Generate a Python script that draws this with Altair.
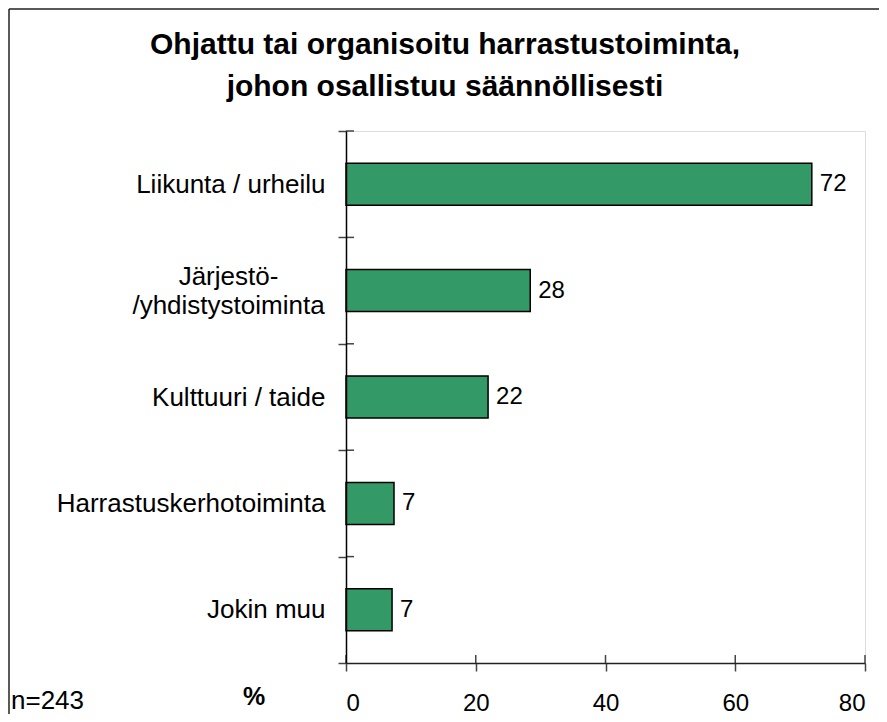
import altair as alt
import pandas as pd

categories = ["Liikunta / urheilu", "Järjestö-/yhdistystoiminta", "Kulttuuri / taide",
              "Harrastuskerhotoiminta", "Jokin muu"]
values = [71.8, 28.4, 21.9, 7.4, 7.1]
labels = ["72", "28", "22", "7", "7"]
x_ticks = [0, 20, 40, 60, 80]
title_lines = ["Ohjattu tai organisoitu harrastustoiminta,", "johon osallistuu säännöllisesti"]
n_text = "n=243"
unit_text = "%"

df = pd.DataFrame({"cat": categories, "value": values, "label": labels})
ticks_df = pd.DataFrame({"value": x_ticks})
one = pd.DataFrame({"a": [0]})

W, H = 519, 532
PL, PT, PR, PB = 338, 123, 14, 51
FONT = "Liberation Sans"
TICK = "#444"

xscale = alt.Scale(domain=[0, 80], nice=False)
yscale = alt.Scale(paddingInner=0, paddingOuter=0)

JAR = "Järjestö-/yhdistystoiminta"
TEST = "datum.value == '" + JAR + "'"
label_expr = TEST + " ? ['Järjestö-', '/yhdistystoiminta'] : datum.label"

base = alt.Chart(df)

bars = base.mark_bar(fill="#339966", stroke="black", strokeWidth=1.5, size=42).encode(
    x=alt.X("value:Q", scale=xscale, title=None,
            axis=alt.Axis(values=x_ticks, tickSize=8, labelFontSize=24, labelPadding=20,
                          labelFont=FONT, labelColor="black", domainColor="#222",
                          tickColor=TICK, tickWidth=1.5, domainWidth=1.5, grid=False, zindex=2)),
    y=alt.Y("cat:N", sort=categories, scale=yscale, title=None,
            axis=alt.Axis(tickBand="extent", tickSize=8, labelFontSize=26, labelFont=FONT,
                          labelColor="black", labelLimit=400, labelExpr=label_expr,
                          labelLineHeight=29,
                          labelAlign={"condition": {"test": TEST, "value": "center"},
                                      "value": "right"},
                          labelPadding={"condition": {"test": TEST, "value": 110}, "value": 13},
                          labelOffset={"condition": {"test": TEST, "value": -14}, "value": 0},
                          domainColor="black", tickColor=TICK, tickWidth=1.5, domainWidth=1.5,
                          grid=False, zindex=2)),
)

text = base.mark_text(align="left", baseline="middle", dx=8, fontSize=24, font=FONT,
                      color="black").encode(
    x=alt.X("value:Q", scale=xscale, title=None),
    y=alt.Y("cat:N", sort=categories, scale=yscale, title=None),
    text="label:N",
)

# inner halves of the crossing ticks
xin = alt.Chart(ticks_df).mark_rule(color=TICK, strokeWidth=1.5).encode(
    x=alt.X("value:Q", scale=xscale, title=None),
    y=alt.value(H - 8), y2=alt.value(H),
)
yin = base.mark_rule(color=TICK, strokeWidth=1.5).encode(
    y=alt.Y("cat:N", sort=categories, scale=yscale, title=None, bandPosition=0),
    x=alt.value(0), x2=alt.value(8),
)

t1 = alt.Chart(one).mark_text(align="center", baseline="alphabetic", fontSize=30,
                              fontWeight="bold", font=FONT, color="black").encode(
    x=alt.value(99), y=alt.value(-77), text=alt.value(title_lines[0]))
t2 = alt.Chart(one).mark_text(align="center", baseline="alphabetic", fontSize=30,
                              fontWeight="bold", font=FONT, color="black").encode(
    x=alt.value(99), y=alt.value(-35), text=alt.value(title_lines[1]))
pct = alt.Chart(one).mark_text(align="center", baseline="middle", fontSize=25,
                               fontWeight="bold", font=FONT, color="black").encode(
    x=alt.value(-92), y=alt.value(566), text=alt.value(unit_text))
nn = alt.Chart(one).mark_text(align="left", baseline="alphabetic", fontSize=26,
                              font=FONT, color="black").encode(
    x=alt.value(-335), y=alt.value(578), text=alt.value(n_text))

bleft = alt.Chart(one).mark_rule(color="#222", strokeWidth=1.5).encode(
    x=alt.value(-337), y=alt.value(-122), y2=alt.value(H + PB))
btop = alt.Chart(one).mark_rule(color="#222", strokeWidth=1.5).encode(
    x=alt.value(-337), x2=alt.value(W + PR), y=alt.value(-122))

chart = alt.layer(bars, text, xin, yin, t1, t2, pct, nn, bleft, btop).properties(
    width=W, height=H,
    autosize=alt.AutoSizeParams(type="none"),
    padding={"left": PL, "top": PT, "right": PR, "bottom": PB},
).configure_view(stroke="#999", strokeWidth=2).configure(font=FONT, background="white")

chart.save("out.html", embed_options={"renderer": "svg", "actions": False})
